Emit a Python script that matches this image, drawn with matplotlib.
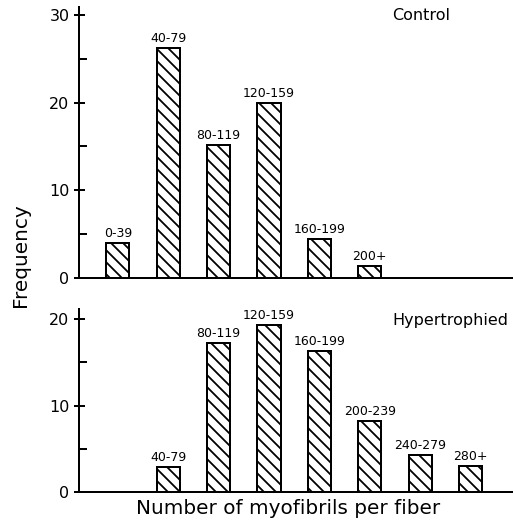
import matplotlib
matplotlib.use("Agg")
import matplotlib.pyplot as plt
from matplotlib.ticker import MultipleLocator

# Daten
kat_kontrolle = ['0-39', '40-79', '80-119', '120-159', '160-199', '200+']
pos_kontrolle = [0, 1, 2, 3, 4, 5]
freq_kontrolle = [4.0, 26.2, 15.2, 20.0, 4.4, 1.4]

kat_hyper = ['40-79', '80-119', '120-159', '160-199', '200-239', '240-279', '280+']
pos_hyper = [1, 2, 3, 4, 5, 6, 7]
freq_hyper = [2.9, 17.3, 19.3, 16.3, 8.2, 4.3, 3.0]

plt.rcParams['font.family'] = 'DejaVu Sans'
plt.rcParams['hatch.linewidth'] = 1.8

W, H = 513, 522
fig = plt.figure(figsize=(W/72, H/72), dpi=72)

ax1 = fig.add_axes([79/W, 1-278/H, (512-79)/W, (278-7)/H])
ax2 = fig.add_axes([79/W, 1-491.7/H, (512-79)/W, (491.7-309)/H])


def panel(ax, pos, freq, kat, ytop, ymajor):
    bars = ax.bar(pos, freq, width=0.46, color='white', edgecolor='black',
                  linewidth=2, hatch=r'\\')
    for b, lab in zip(bars, kat):
        ax.annotate(lab, (b.get_x() + b.get_width()/2, b.get_height()),
                    xytext=(0, 3), textcoords='offset points',
                    ha='center', va='bottom', fontsize=12.5)
    ax.set_xlim(-0.77, 7.82)
    ax.set_ylim(0, ytop)
    ax.yaxis.set_major_locator(MultipleLocator(ymajor))
    ax.yaxis.set_minor_locator(MultipleLocator(5))
    ax.tick_params(axis='y', which='major', direction='inout', length=11,
                   width=2, labelsize=16, pad=4)
    ax.tick_params(axis='y', which='minor', direction='in', length=8, width=2)
    ax.set_xticks([])
    for s in ['top', 'right']:
        ax.spines[s].set_visible(False)
    for s in ['left', 'bottom']:
        ax.spines[s].set_linewidth(2)


panel(ax1, pos_kontrolle, freq_kontrolle, kat_kontrolle, 30.9, 10)
panel(ax2, pos_hyper, freq_hyper, kat_hyper, 21.2, 10)

fig.text(392/W, 1-15/H, 'Control', ha='left', va='center', fontsize=16)
fig.text(392/W, 1-320/H, 'Hypertrophied', ha='left', va='center', fontsize=16)

fig.text(21/W, 1-255/H, 'Frequency', rotation=90, ha='center', va='center',
         fontsize=20)
fig.text(288.5/W, 1-508/H, 'Number of myofibrils per fiber', ha='center',
         va='center', fontsize=20)

fig.savefig('out.png', dpi=72)
